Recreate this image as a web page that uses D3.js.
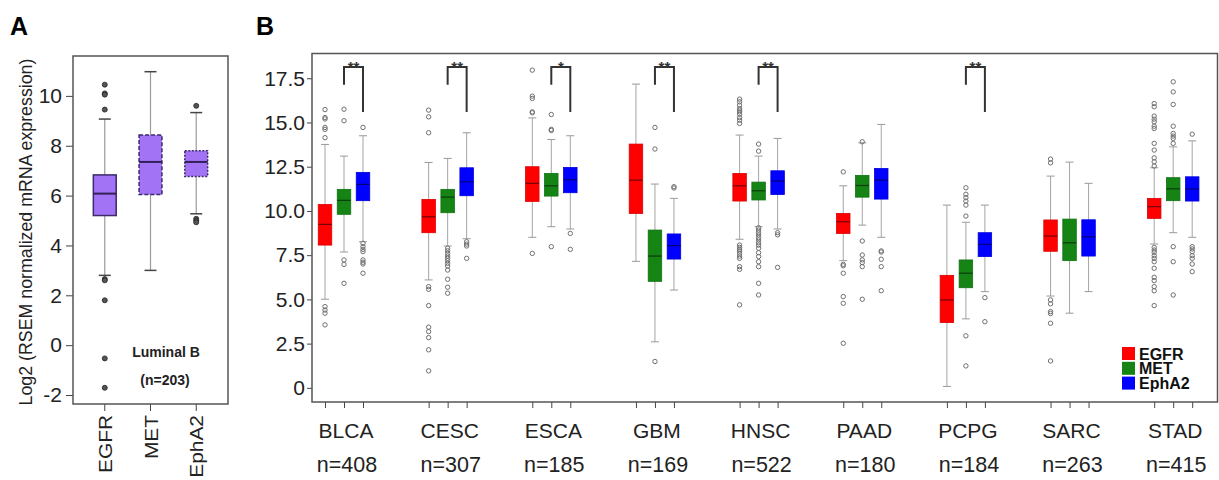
<!DOCTYPE html>
<html>
    <head>
        <meta charset="utf-8">
        <title>EGFR MET EphA2</title>
        <script src="https://d3js.org/d3.v7.min.js"></script>
        <style>
            body { margin: 0; background: #fff; }
            text { font-family: "Liberation Sans", Arial, sans-serif; }
        </style>
    </head>
    <body>
        <script>
            // ---- Panel A data (Luminal B) ----
            const luminalGenes = ["EGFR", "MET", "EphA2"];
            // [lower whisker, q1, median, q3, upper whisker]
            const luminalStats = [
                [2.8, 5.2, 6.08, 6.83, 9.07],
                [3.0, 6.04, 7.35, 8.43, 10.97],
                [5.27, 6.77, 7.35, 7.8, 9.33]
            ];
            const luminalOutliers = [
                [10.45, 10.1, 10.05, 9.45, 2.65, 2.6, 1.8, -0.53, -1.71],
                [],
                [9.6, 5.07, 5.0, 4.93]
            ];
            const luminalTicks = [-2, 0, 2, 4, 6, 8, 10];

            // ---- Panel B data ----
            const categories = ["BLCA", "CESC", "ESCA", "GBM", "HNSC", "PAAD", "PCPG", "SARC", "STAD"];
            const sampleN = [408, 307, 185, 169, 522, 180, 184, 263, 415];
            const series = ["EGFR", "MET", "EphA2"];
            const seriesColors = ["#ff0000", "#158415", "#0000ff"];
            const yTicksB = [0, 2.5, 5, 7.5, 10, 12.5, 15, 17.5];

            // [lower whisker, q1, median, q3, upper whisker] per category
            const egfrStats = [
                [5.01, 8.07, 9.24, 10.37, 13.76],
                [6.1, 8.77, 9.67, 10.65, 12.74],
                [8.51, 10.54, 11.56, 12.5, 15.26],
                [7.15, 9.86, 11.74, 13.78, 17.17],
                [8.4, 10.56, 11.42, 12.12, 14.29],
                [7.19, 8.73, 9.39, 9.86, 11.42],
                [0.08, 3.69, 4.97, 6.36, 10.33],
                [5.19, 7.72, 8.58, 9.49, 11.97],
                [8.13, 9.58, 10.24, 10.71, 12.44]
            ];
            const metStats = [
                [7.68, 9.81, 10.6, 11.22, 13.1],
                [8.02, 9.9, 10.78, 11.22, 12.97],
                [9.11, 10.84, 11.42, 12.12, 14.04],
                [2.6, 6.02, 7.45, 8.92, 11.52],
                [9.11, 10.62, 11.14, 11.63, 13.1],
                [9.2, 10.78, 11.44, 12.01, 13.85],
                [3.9, 5.66, 6.48, 7.23, 9.36],
                [4.22, 7.19, 8.2, 9.54, 12.76],
                [8.77, 10.58, 11.25, 11.88, 13.62]
            ];
            const epha2Stats = [
                [8.26, 10.58, 11.5, 12.18, 14.25],
                [8.43, 10.86, 11.65, 12.44, 14.42],
                [8.98, 11.03, 11.76, 12.46, 14.25],
                [5.53, 7.28, 8.04, 8.7, 10.71],
                [8.98, 10.93, 11.69, 12.27, 14.1],
                [8.51, 10.67, 11.74, 12.4, 14.89],
                [5.44, 7.42, 8.11, 8.77, 10.33],
                [5.44, 7.45, 8.54, 9.5, 11.56],
                [8.51, 10.56, 11.24, 11.93, 13.96]
            ];

            const egfrOutliers = [
                [15.73, 15.28, 15.2, 14.72, 14.61, 14.14, 4.59, 4.4, 4.22, 3.56],
                [15.7, 15.32, 14.42, 5.72, 5.57, 4.65, 3.43, 3.18, 2.84, 2.15, 0.96],
                [17.96, 16.49, 16.36, 15.6, 15.55, 7.6],
                [],
                [16.32, 16.17, 15.98, 15.79, 15.7, 15.6, 15.47, 15.28, 15.13, 14.95,
                 8.07, 7.94, 7.83, 7.74, 7.61, 7.45, 7.32, 6.85, 6.7, 4.69],
                [12.21, 6.98, 6.9, 6.48, 5.16, 4.78, 2.52],
                [],
                [12.93, 12.72, 4.97, 4.75, 4.31, 4.2, 3.65, 1.52],
                [16.07, 15.89, 15.36, 15.19, 15.04, 14.79, 14.66, 13.82, 13.44, 13.0, 12.78, 12.54,
                 7.94, 7.79, 7.66, 7.47, 7.32, 7.13, 6.76, 6.25, 6.06, 5.72, 5.49, 4.65]
            ];
            const metOutliers = [
                [15.75, 15.1, 7.23, 6.98, 5.91],
                [7.89, 7.75, 7.6, 7.45, 7.32, 7.19, 7.04, 6.89, 6.66, 6.14, 5.69, 5.35],
                [15.45, 14.61, 14.55, 7.98],
                [14.72, 13.5, 1.49],
                [13.78, 13.38, 9.05, 8.92, 8.77, 8.64, 8.49, 8.36, 8.2, 8.07, 7.89, 7.64, 7.42, 7.13, 6.85, 5.91, 5.25],
                [13.91, 8.3, 7.51, 7.23, 7.08, 6.85, 5.01],
                [11.31, 10.94, 10.75, 10.56, 10.33, 9.71, 2.94, 1.24],
                [],
                [17.3, 16.73, 16.02, 14.79, 14.38, 14.23, 14.1, 13.82, 7.98, 7.13, 5.25]
            ];
            const epha2Outliers = [
                [14.72, 8.17, 7.98, 7.83, 7.7, 7.23, 7.1, 7.0, 6.48],
                [8.26, 8.13, 8.02, 7.32],
                [8.73, 7.83],
                [11.37, 11.3],
                [8.77, 8.65, 6.81],
                [7.74, 7.68, 7.27, 6.85, 5.49],
                [5.1, 3.74],
                [],
                [14.34, 7.98, 7.85, 7.7, 7.47, 7.32, 7.0, 6.57]
            ];

            // significance brackets (MET vs EphA2)
            const sigCategories = ["BLCA", "CESC", "ESCA", "GBM", "HNSC", "PCPG"];
            const sigMarks = ["**", "**", "*", "**", "**", "**"];
            const bracketTop = 18.14, bracketLeftEnd = 17.14, bracketRightEnd = 15.6;

            const statsBySeries = [egfrStats, metStats, epha2Stats];
            const outliersBySeries = [egfrOutliers, metOutliers, epha2Outliers];

            // ---- SVG ----
            const svg = d3.select("body")
                .append("svg")
                    .attr("width", 1219)
                    .attr("height", 480);

            svg.append("rect").attr("width", 1219).attr("height", 480).attr("fill", "#fff");

            // panel letters
            svg.append("text").attr("x", 10).attr("y", 35)
                .style("font-size", "25px").style("font-weight", "bold").text("A");
            svg.append("text").attr("x", 256).attr("y", 35)
                .style("font-size", "25px").style("font-weight", "bold").text("B");

            // =========== Panel A ===========
            const frameA = { left: 73, right: 228, top: 56, bottom: 404 };

            const xA = d3.scaleBand()
                .domain(luminalGenes)
                .range([frameA.left, frameA.right])
                .paddingInner(0.5)
                .paddingOuter(0.445);

            const yA = d3.scaleLinear()
                .domain([-2.36, 11.6])
                .range([frameA.bottom, frameA.top]);

            const gA = svg.append("g");

            // y axis
            const yAxisA = gA.append("g")
                .attr("transform", `translate(${frameA.left},0)`)
                .call(d3.axisLeft(yA).tickValues(luminalTicks).tickSize(7).tickPadding(4)
                    .tickFormat(d => String(d)));
            yAxisA.select(".domain").remove();
            yAxisA.selectAll("line").attr("stroke", "#444");
            yAxisA.selectAll("text").style("font-size", "21px").attr("fill", "#222")
                .style("font-family", '"Liberation Sans", Arial, sans-serif');

            // x axis
            const xAxisA = gA.append("g")
                .attr("transform", `translate(0,${frameA.bottom})`)
                .call(d3.axisBottom(xA).tickSize(7).tickFormat(""));
            xAxisA.select(".domain").remove();
            xAxisA.selectAll("line").attr("stroke", "#444");

            gA.selectAll(".xlabA")
                .data(luminalGenes)
                .join("text")
                    .attr("transform", d => `translate(${xA(d) + xA.bandwidth() / 2 + 7},415) rotate(-90) scale(1.1,1)`)
                    .attr("text-anchor", "end")
                    .style("font-size", "19px")
                    .attr("fill", "#222")
                    .text(d => d);

            // y label
            gA.append("text")
                .attr("transform", "translate(32,232) rotate(-90)")
                .attr("text-anchor", "middle")
                .style("font-size", "17.8px")
                .attr("fill", "#222")
                .text("Log2 (RSEM normalized mRNA expression)");

            const boxDash = [null, "4,2", "2,1.5"];
            luminalGenes.forEach((gene, i) => {
                const s = luminalStats[i];
                const cx = xA(gene) + xA.bandwidth() / 2;
                const w = xA.bandwidth();
                gA.append("line")
                    .attr("x1", cx).attr("x2", cx)
                    .attr("y1", yA(s[0])).attr("y2", yA(s[4]))
                    .attr("stroke", "#9a9a9a").attr("stroke-width", 1.2);
                [s[0], s[4]].forEach(v => {
                    gA.append("line")
                        .attr("x1", cx - 6).attr("x2", cx + 6)
                        .attr("y1", yA(v)).attr("y2", yA(v))
                        .attr("stroke", "#444").attr("stroke-width", 1.5);
                });
                gA.append("rect")
                    .attr("x", cx - w / 2).attr("width", w)
                    .attr("y", yA(s[3])).attr("height", yA(s[1]) - yA(s[3]))
                    .attr("fill", "#a274f5")
                    .attr("stroke", "#3c2a6a").attr("stroke-width", 1.5)
                    .attr("stroke-dasharray", boxDash[i]);
                gA.append("line")
                    .attr("x1", cx - w / 2).attr("x2", cx + w / 2)
                    .attr("y1", yA(s[2])).attr("y2", yA(s[2]))
                    .attr("stroke", "#33205a").attr("stroke-width", 2);
                gA.selectAll(null)
                    .data(luminalOutliers[i])
                    .join("circle")
                        .attr("cx", cx).attr("cy", d => yA(d))
                        .attr("r", 2.5)
                        .attr("fill", "#555").attr("stroke", "#222").attr("stroke-width", 0.8);
            });

            gA.append("text").attr("x", 166).attr("y", 357)
                .attr("text-anchor", "middle").style("font-size", "14px").style("font-weight", "bold")
                .attr("fill", "#222").text("Luminal B");
            gA.append("text").attr("x", 165).attr("y", 385)
                .attr("text-anchor", "middle").style("font-size", "14px").style("font-weight", "bold")
                .attr("fill", "#222").text("(n=203)");

            gA.append("rect")
                .attr("x", frameA.left).attr("y", frameA.top)
                .attr("width", frameA.right - frameA.left).attr("height", frameA.bottom - frameA.top)
                .attr("fill", "none").attr("stroke", "#555").attr("stroke-width", 1.5);

            // =========== Panel B ===========
            const frameB = { left: 312, right: 1217.5, top: 53.5, bottom: 402 };

            const xGroup = d3.scalePoint()
                .domain(categories)
                .range([frameB.left + 32, frameB.right - 44.3]);

            const xSeries = d3.scalePoint()
                .domain(series)
                .range([-19, 19]);

            const boxW = 13.5;

            const yB = d3.scaleLinear()
                .domain([-0.8, 18.9])
                .range([frameB.bottom, frameB.top]);

            const gB = svg.append("g");

            // y axis
            const yAxisB = gB.append("g")
                .attr("transform", `translate(${frameB.left},0)`)
                .call(d3.axisLeft(yB).tickValues(yTicksB).tickSize(5).tickPadding(2)
                    .tickFormat(d => d === 0 ? "0" : d3.format(".1f")(d)));
            yAxisB.select(".domain").remove();
            yAxisB.selectAll("line").attr("stroke", "#444");
            yAxisB.selectAll("text").style("font-size", "21px").attr("fill", "#222")
                .style("font-family", '"Liberation Sans", Arial, sans-serif');

            // x axis: one tick per box
            const boxKeys = categories.flatMap(c => series.map(s => c + "|" + s));
            const xBox = d3.scaleOrdinal()
                .domain(boxKeys)
                .range(boxKeys.map(k => {
                    const [c, s] = k.split("|");
                    return xGroup(c) + xSeries(s);
                }));
            const xAxisB = gB.append("g")
                .attr("transform", `translate(0,${frameB.bottom})`)
                .call(d3.axisBottom(xBox).tickSize(6).tickFormat(""));
            xAxisB.select(".domain").remove();
            xAxisB.selectAll("line").attr("stroke", "#444");

            gB.selectAll(".catLabel")
                .data(categories)
                .join("text")
                    .attr("x", d => xGroup(d) + 2)
                    .attr("y", 438)
                    .attr("text-anchor", "middle")
                    .style("font-size", "21px")
                    .attr("fill", "#222")
                    .text(d => d);

            gB.selectAll(".nLabel")
                .data(categories)
                .join("text")
                    .attr("x", d => xGroup(d) + 3)
                    .attr("y", 472)
                    .attr("text-anchor", "middle")
                    .style("font-size", "21.5px")
                    .attr("fill", "#222")
                    .text((d, i) => "n=" + sampleN[i]);

            // boxes
            categories.forEach((cat, i) => {
                series.forEach((ser, j) => {
                    const s = statsBySeries[j][i];
                    const cx = xGroup(cat) + xSeries(ser);
                    const col = seriesColors[j];
                    const g = gB.append("g");
                    g.append("line")
                        .attr("x1", cx).attr("x2", cx)
                        .attr("y1", yB(s[0])).attr("y2", yB(s[4]))
                        .attr("stroke", "#a5a5a5").attr("stroke-width", 1);
                    [s[0], s[4]].forEach(v => {
                        g.append("line")
                            .attr("x1", cx - 4).attr("x2", cx + 4)
                            .attr("y1", yB(v)).attr("y2", yB(v))
                            .attr("stroke", "#999").attr("stroke-width", 1);
                    });
                    g.append("rect")
                        .attr("x", cx - boxW / 2).attr("width", boxW)
                        .attr("y", yB(s[3])).attr("height", yB(s[1]) - yB(s[3]))
                        .attr("fill", col)
                        .attr("stroke", d3.color(col).darker(0.4)).attr("stroke-width", 0.8);
                    g.append("line")
                        .attr("x1", cx - boxW / 2).attr("x2", cx + boxW / 2)
                        .attr("y1", yB(s[2])).attr("y2", yB(s[2]))
                        .attr("stroke", d3.color(col).darker(2.2)).attr("stroke-width", 1.2);
                    g.selectAll("circle")
                        .data(outliersBySeries[j][i])
                        .join("circle")
                            .attr("cx", cx).attr("cy", d => yB(d))
                            .attr("r", 2.2)
                            .attr("fill", "none")
                            .attr("stroke", "#707070").attr("stroke-width", 1);
                });
            });

            // significance brackets
            sigCategories.forEach((cat, i) => {
                const xl = xGroup(cat) + xSeries("MET");
                const xr = xGroup(cat) + xSeries("EphA2");
                gB.append("path")
                    .attr("d", `M${xl},${yB(bracketLeftEnd)}V${yB(bracketTop)}H${xr}V${yB(bracketRightEnd)}`)
                    .attr("fill", "none").attr("stroke", "#333").attr("stroke-width", 2);
                gB.append("text")
                    .attr("x", (xl + xr) / 2).attr("y", yB(bracketTop) + 5)
                    .attr("text-anchor", "middle")
                    .style("font-size", "15px").style("font-weight", "bold")
                    .attr("fill", "#333")
                    .text(sigMarks[i]);
            });

            // legend
            const legend = gB.append("g").attr("transform", "translate(1122,347)");
            series.forEach((ser, j) => {
                legend.append("rect")
                    .attr("x", 0).attr("y", j * 14.8)
                    .attr("width", 13).attr("height", 13)
                    .attr("fill", seriesColors[j]);
                legend.append("text")
                    .attr("x", 17).attr("y", j * 14.8 + 12.5)
                    .style("font-size", "16px").style("font-weight", "bold")
                    .attr("fill", "#111")
                    .text(ser);
            });

            gB.append("rect")
                .attr("x", frameB.left).attr("y", frameB.top)
                .attr("width", frameB.right - frameB.left).attr("height", frameB.bottom - frameB.top)
                .attr("fill", "none").attr("stroke", "#555").attr("stroke-width", 1.5);
        </script>
    </body>
</html>
